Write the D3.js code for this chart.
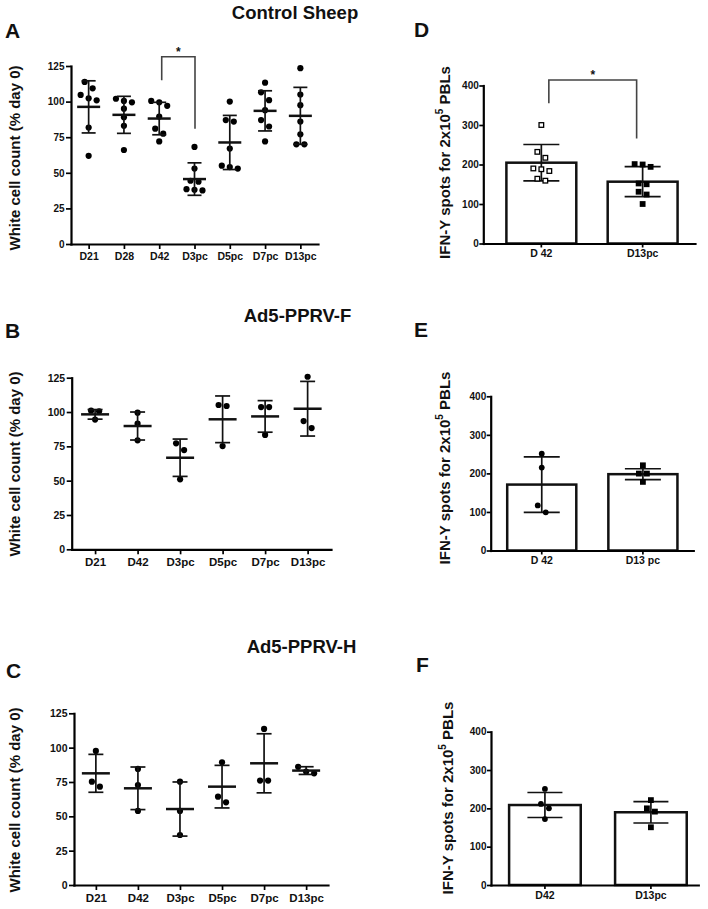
<!DOCTYPE html>
<html><head><meta charset="utf-8">
<script src="https://cdn.jsdelivr.net/npm/d3@7"></script>
<style>
body{margin:0;background:#fff}
svg{display:block}
text{font-family:"Liberation Sans",Arial,sans-serif;font-weight:bold;fill:#111}
</style>
</head><body>
<svg id="c" width="708" height="909"></svg>
<script>
// ---------- DATA ----------
const ticksWBC = [0, 25, 50, 75, 100, 125];
const ticksIFN = [0, 100, 200, 300, 400];

// Panel A - Control Sheep (white cell count, % day 0)
const catsA = ["D21", "D28", "D42", "D3pc", "D5pc", "D7pc", "D13pc"];
const ptsA = [
  [113.8, 109.3, 104.7, 102.3, 100.9, 81.8, 61.9],
  [102, 100.5, 99.5, 95, 89, 83, 66],
  [100.5, 99.5, 97, 89.5, 81, 77.5, 72],
  [68.2, 53, 44.4, 43.7, 38.5, 38.1, 37.6],
  [100, 87, 86, 67, 55, 54, 53],
  [113.3, 106.5, 101, 94, 87, 82.5, 72],
  [123.5, 105, 97.5, 86, 77, 70, 70]
];
const meanA = [96.3, 90.7, 88.1, 45.6, 71.3, 93.5, 90];
const sdA = [18.3, 13, 11.4, 11.4, 19, 14.1, 20];
const sigA = ["D42", "D3pc"];
const sigALevels = [131.5, 115, 81];

// Panel B - Ad5-PPRV-F
const catsB = ["D21", "D42", "D3pc", "D5pc", "D7pc", "D13pc"];
const ptsB = [
  [101, 100.5, 94.5],
  [99.5, 91.5, 79.4],
  [77.2, 72.3, 51],
  [105.1, 104.4, 75.2],
  [103.6, 103.6, 83.3],
  [125.7, 93.4, 88.3]
];
const meanB = [98.3, 89.8, 66.7, 94.7, 96.8, 102.4];
const sdB = [3.5, 10.2, 13.6, 17, 11.5, 19.9];

// Panel C - Ad5-PPRV-H
const catsC = ["D21", "D42", "D3pc", "D5pc", "D7pc", "D13pc"];
const ptsC = [
  [97.6, 75.2, 71.6],
  [84.5, 72.8, 53.9],
  [75.2, 53.9, 36.4],
  [89.3, 64.3, 60.2],
  [113.6, 76, 76],
  [86, 82.5, 81.3]
];
const meanC = [81.3, 70.4, 55.3, 71.6, 88.6, 83.3];
const sdC = [13.8, 15.5, 19.7, 15.5, 21.5, 2.8];

// Panel D - IFN-Y spots (Control)
const catsD = ["D 42", "D13pc"];
const ptsD = [
  [300, 232, 217, 190, 188, 183.5, 164, 159],
  [201, 200, 194, 152, 150, 131, 124, 100]
];
const meanD = [204.6, 156.5];
const sdD = [46, 38];
const markD = ["openSquare", "square"];
const sigD = ["D 42", "D13pc"];
const sigDLevels = [414, 355, 266];

// Panel E
const catsE = ["D 42", "D13 pc"];
const ptsE = [
  [251, 215, 117, 99],
  [221, 199.5, 199.5, 178]
];
const meanE = [171, 198];
const sdE = [72, 14];
const markE = ["circle", "square"];

// Panel F
const catsF = ["D42", "D13pc"];
const ptsF = [
  [250.6, 211.5, 200, 172],
  [221.5, 200, 191.5, 150.6]
];
const meanF = [208.7, 189.8];
const sdF = [32.6, 28];
const markF = ["circle", "square"];

// ---------- DRAWING ----------
const svg = d3.select("#c");
const FONT = '"Liberation Sans", Arial, sans-serif';

function swarm(vals, y, thr = 8, gap = 8) {
  const idx = vals.map((v, i) => i).sort((a, b) => vals[b] - vals[a]);
  const off = new Array(vals.length).fill(0);
  let row = [];
  const flush = () => { row.forEach((k, j) => off[k] = (j - (row.length - 1) / 2) * gap); row = []; };
  idx.forEach(i => {
    if (row.length && Math.abs(y(vals[i]) - y(vals[row[0]])) > thr) flush();
    row.push(i);
  });
  flush();
  return off;
}

function styleAxis(g, fs) {
  g.attr("font-family", FONT).attr("font-size", fs).attr("font-weight", "bold");
  g.select(".domain").attr("stroke", "#000").attr("stroke-width", 2.2).attr("stroke-linecap", "square");
  g.selectAll(".tick line").attr("stroke", "#000").attr("stroke-width", 1.7);
  g.selectAll(".tick text").attr("fill", "#111");
}

function marker(g, type, cx, cy, r) {
  if (type === "circle") {
    g.append("circle").attr("cx", cx).attr("cy", cy).attr("r", r).attr("fill", "#000");
  } else if (type === "square") {
    g.append("rect").attr("x", cx - r).attr("y", cy - r).attr("width", 2 * r).attr("height", 2 * r).attr("fill", "#000");
  } else {
    g.append("rect").attr("x", cx - r + 0.6).attr("y", cy - r + 0.6).attr("width", 2 * r - 1.2).attr("height", 2 * r - 1.2)
      .attr("fill", "#fff").attr("stroke", "#000").attr("stroke-width", 1.3);
  }
}

function yTitle(x, yc, isIFN) {
  const t = svg.append("text").attr("transform", `translate(${x},${yc}) rotate(-90)`)
    .attr("text-anchor", "middle").attr("font-size", 15).attr("dominant-baseline", "central");
  if (isIFN) {
    t.append("tspan").text("IFN-Y spots for 2x10");
    t.append("tspan").attr("font-size", 10).attr("dy", -5).text("5");
    t.append("tspan").attr("dy", 5).text(" PBLs");
  } else {
    t.text("White cell count (% day 0)");
  }
}

function letter(txt, x, y) {
  svg.append("text").attr("x", x).attr("y", y).attr("font-size", 21).text(txt);
}
function title(txt, x, y) {
  svg.append("text").attr("x", x).attr("y", y).attr("font-size", 18.5).attr("text-anchor", "middle").text(txt);
}

function scatterPanel(o) {
  const x = d3.scalePoint().domain(o.cats).range(o.xr).padding(o.pad);
  const y = d3.scaleLinear().domain([0, 125]).range(o.yr);
  const g = svg.append("g");
  const gy = g.append("g").attr("transform", `translate(${o.xr[0]},0)`)
    .call(d3.axisLeft(y).tickValues(ticksWBC).tickSize(5).tickSizeOuter(0).tickPadding(1.5));
  styleAxis(gy, o.yfs);
  const gx = g.append("g").attr("transform", `translate(0,${o.yr[0]})`)
    .call(d3.axisBottom(x).tickSize(5).tickSizeOuter(0).tickPadding(o.xpad));
  styleAxis(gx, o.xfs);

  o.cats.forEach((c, i) => {
    const cx = x(c);
    const m = o.mean[i], s = o.sd[i];
    const offs = swarm(o.pts[i], y);
    o.pts[i].forEach((v, k) => marker(g, "circle", cx + offs[k], y(v), o.r));
    g.append("line").attr("x1", cx).attr("x2", cx).attr("y1", y(m - s)).attr("y2", y(m + s))
      .attr("stroke", "#111").attr("stroke-width", 1.7);
    [m - s, m + s].forEach(v => g.append("line").attr("x1", cx - o.capHW).attr("x2", cx + o.capHW)
      .attr("y1", y(v)).attr("y2", y(v)).attr("stroke", "#111").attr("stroke-width", 1.7));
    g.append("line").attr("x1", cx - o.meanHW).attr("x2", cx + o.meanHW).attr("y1", y(m)).attr("y2", y(m))
      .attr("stroke", "#111").attr("stroke-width", 2.5);
  });
  return { x, y, g };
}

function barPanel(o) {
  const x = d3.scaleBand().domain(o.cats).range(o.xr).paddingInner(o.pi).paddingOuter(o.po).align(o.align);
  const y = d3.scaleLinear().domain([0, 400]).range(o.yr);
  const g = svg.append("g");
  o.cats.forEach((c, i) => {
    g.append("rect").attr("x", x(c)).attr("width", x.bandwidth()).attr("y", y(o.mean[i]))
      .attr("height", y(0) - y(o.mean[i])).attr("fill", "#fff").attr("stroke", "#111").attr("stroke-width", 2.5);
  });
  const gy = g.append("g").attr("transform", `translate(${o.xr[0]},0)`)
    .call(d3.axisLeft(y).tickValues(ticksIFN).tickSize(4).tickSizeOuter(0).tickPadding(0.5));
  styleAxis(gy, o.yfs);
  const gx = g.append("g").attr("transform", `translate(0,${o.yr[0]})`)
    .call(d3.axisBottom(x).tickSize(4).tickSizeOuter(0).tickPadding(o.xpad));
  styleAxis(gx, o.xfs);
  o.cats.forEach((c, i) => {
    const cx = x(c) + x.bandwidth() / 2;
    const m = o.mean[i], s = o.sd[i];
    g.append("line").attr("x1", cx).attr("x2", cx).attr("y1", y(m - s)).attr("y2", y(m + s))
      .attr("stroke", "#111").attr("stroke-width", 1.7);
    [m - s, m + s].forEach(v => g.append("line").attr("x1", cx - o.capHW).attr("x2", cx + o.capHW)
      .attr("y1", y(v)).attr("y2", y(v)).attr("stroke", "#111").attr("stroke-width", 1.7));
    const offs = swarm(o.pts[i], y);
    o.pts[i].forEach((v, k) => marker(g, o.marks[i], cx + offs[k], y(v), o.r));
  });
  return { x, y, g, c: c => x(c) + x.bandwidth() / 2 };
}

function bracket(g, x1, x2, y, levels, sx, sy) {
  g.append("path")
    .attr("d", `M${x1},${y(levels[1])}V${y(levels[0])}H${x2}V${y(levels[2])}`)
    .attr("fill", "none").attr("stroke", "#444").attr("stroke-width", 1.6);
  g.append("text").attr("x", sx).attr("y", sy).attr("text-anchor", "middle").attr("font-size", 12)
    .attr("font-weight", "normal").text("*");
}

// ----- Panel A -----
letter("A", 5, 38);
title("Control Sheep", 295, 18.5);
yTitle(14, 158, false);
const pA = scatterPanel({ cats: catsA, pts: ptsA, mean: meanA, sd: sdA, xr: [71, 318], yr: [244, 66],
  pad: 0.5, yfs: 10, xfs: 10.5, xpad: 3.5, meanHW: 11.5, capHW: 7, r: 3.1 });
{
  const xa = pA.x(sigA[0]) + 2.5, xb = pA.x(sigA[1]) + 0.5;
  bracket(pA.g, xa, xb, pA.y, sigALevels, (xa + xb) / 2, pA.y(sigALevels[0]) - 0.5);
}

// ----- Panel B -----
letter("B", 5, 337.5);
title("Ad5-PPRV-F", 297.5, 321.5);
yTitle(14, 464, false);
scatterPanel({ cats: catsB, pts: ptsB, mean: meanB, sd: sdB, xr: [71.7, 331], yr: [549.3, 377.7],
  pad: 0.55, yfs: 10.5, xfs: 11.5, xpad: 3.5, meanHW: 14, capHW: 7.5, r: 3.1 });

// ----- Panel C -----
letter("C", 6, 678);
title("Ad5-PPRV-H", 301.5, 652.5);
yTitle(14, 800, false);
scatterPanel({ cats: catsC, pts: ptsC, mean: meanC, sd: sdC, xr: [74, 328], yr: [885, 713.3],
  pad: 0.52, yfs: 10.5, xfs: 11.5, xpad: 3.5, meanHW: 14, capHW: 7.5, r: 3.1 });

// ----- Panel D -----
letter("D", 414, 36.5);
yTitle(443.5, 162.5, true);
const pD = barPanel({ cats: catsD, pts: ptsD, mean: meanD, sd: sdD, marks: markD, xr: [483.3, 695], yr: [243.5, 85.5],
  pi: 0.31, po: 0.2, align: 0.57, yfs: 10, xfs: 10.5, xpad: 2, capHW: 18, r: 2.9 });
{
  const xa = pD.c(sigD[0]) + 7.5, xb = pD.c(sigD[1]) - 6;
  bracket(pD.g, xa, xb, pD.y, sigDLevels, (xa + xb) / 2, pD.y(sigDLevels[0]) - 1);
}

// ----- Panel E -----
letter("E", 414, 337);
yTitle(443.5, 468, true);
barPanel({ cats: catsE, pts: ptsE, mean: meanE, sd: sdE, marks: markE, xr: [490.7, 693.3], yr: [550.5, 396.3],
  pi: 0.317, po: 0.16, align: 0.51, yfs: 10, xfs: 10.5, xpad: 2, capHW: 18, r: 2.9 });

// ----- Panel F -----
letter("F", 416, 671.5);
yTitle(446.5, 798, true);
barPanel({ cats: catsF, pts: ptsF, mean: meanF, sd: sdF, marks: markF, xr: [491, 698.3], yr: [885, 731.7],
  pi: 0.324, po: 0.14, align: 0.61, yfs: 10, xfs: 10.5, xpad: 3, capHW: 17.5, r: 2.9 });
</script>
</body></html>
